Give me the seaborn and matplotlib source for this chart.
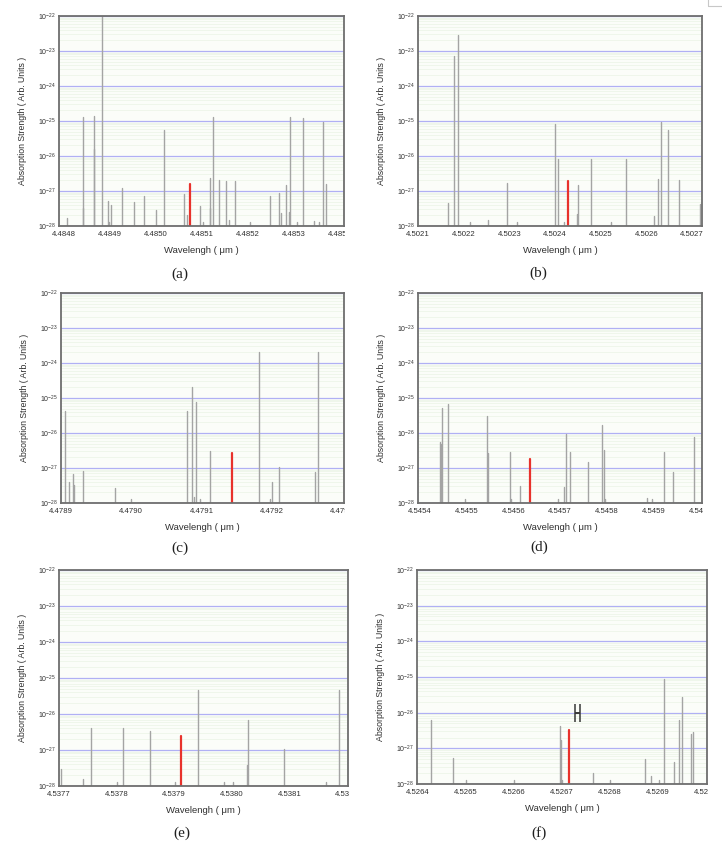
import numpy as np
import pandas as pd
import matplotlib
matplotlib.use("Agg")
import matplotlib.pyplot as plt
import seaborn as sns
from matplotlib.ticker import LogLocator, MultipleLocator, FixedLocator, LogFormatterSciNotation, NullFormatter, FormatStrFormatter
from matplotlib.transforms import Bbox, TransformedBbox
from matplotlib.patches import Rectangle

# ---------------- data (wavelength in um, strength in arb. units) ----------------
wl_a = [4.484807, 4.484842, 4.484842, 4.484867, 4.484867, 4.484884, 4.484896, 4.484899, 4.484904,
        4.484926, 4.484953, 4.484974, 4.485001, 4.485018, 4.485061, 4.485069, 4.485096, 4.485103,
        4.485119, 4.485119, 4.485126, 4.485139, 4.485154, 4.485159, 4.485173, 4.485205, 4.485250,
        4.485268, 4.485272, 4.485283, 4.485291, 4.485293, 4.485307, 4.485320, 4.485345, 4.485356,
        4.485364, 4.485371]
s_a = [1.7e-28, 1.3e-25, 3.3e-28, 1.4e-25, 1.6e-26, 1.2e-22, 5.1e-28, 1.3e-28, 4e-28,
       1.25e-27, 5e-28, 7e-28, 2.9e-28, 5.5e-26, 8.4e-28, 2e-28, 3.7e-28, 1.3e-28,
       2.3e-27, 3.3e-28, 1.3e-25, 2e-27, 1.9e-27, 1.5e-28, 1.9e-27, 1.3e-28, 7e-28,
       8.8e-28, 2.4e-28, 1.5e-27, 2.5e-28, 1.3e-25, 1.3e-28, 1.2e-25, 1.4e-28, 1.3e-28,
       9.3e-26, 1.6e-27]

wl_b = [4.502166, 4.502178, 4.502188, 4.502213, 4.502253, 4.502296, 4.502316, 4.502401, 4.502406,
        4.502420, 4.502448, 4.502450, 4.502479, 4.502522, 4.502555, 4.502617, 4.502625, 4.502632,
        4.502648, 4.502671, 4.502718, 4.502726]
s_b = [4.4e-28, 7.2e-24, 2.8e-23, 1.3e-28, 1.5e-28, 1.7e-27, 1.3e-28, 8.1e-26, 8e-27,
       1.3e-28, 2.2e-28, 1.45e-27, 8e-27, 1.3e-28, 8e-27, 1.9e-28, 2.2e-27, 9.1e-26,
       5.7e-26, 2e-27, 4.3e-28, 3.1e-28]

wl_c = [4.478905, 4.478911, 4.478917, 4.478919, 4.478931, 4.478977, 4.479000, 4.479079, 4.479087,
        4.479090, 4.479092, 4.479098, 4.479112, 4.479182, 4.479197, 4.479201, 4.479211, 4.479262,
        4.479266]
s_c = [4.2e-26, 4e-28, 6.9e-28, 3.2e-28, 8.4e-28, 2.6e-28, 1.3e-28, 4.2e-26, 2e-25,
       1.5e-28, 7.7e-26, 1.3e-28, 3.1e-27, 2.06e-24, 1.3e-28, 4e-28, 1.05e-27, 7.7e-28,
       2.06e-24]

wl_d = [4.545444, 4.545446, 4.545449, 4.545461, 4.545497, 4.545543, 4.545547, 4.545594, 4.545596,
        4.545614, 4.545695, 4.545708, 4.545712, 4.545720, 4.545759, 4.545790, 4.545793, 4.545795,
        4.545885, 4.545895, 4.545920, 4.545941, 4.545985]
s_d = [5.5e-27, 5e-27, 5.2e-26, 6.9e-26, 1.3e-28, 3.06e-26, 2.6e-27, 2.9e-27, 1.3e-28,
       3e-28, 1.3e-28, 2.8e-28, 9.6e-27, 2.9e-27, 1.5e-27, 1.66e-26, 3.3e-27, 1.3e-28,
       1.4e-28, 1.3e-28, 2.9e-27, 7.7e-28, 7.7e-27]

wl_e = [4.537703, 4.537742, 4.537756, 4.537801, 4.537811, 4.537858, 4.537901, 4.537942, 4.537987,
        4.538002, 4.538027, 4.538029, 4.538091, 4.538164, 4.538187]
s_e = [3e-28, 1.6e-28, 4.1e-27, 1.3e-28, 4.2e-27, 3.4e-27, 1.3e-28, 4.6e-26, 1.3e-28,
       1.3e-28, 3.9e-28, 6.8e-27, 1.1e-27, 1.3e-28, 4.6e-26]

wl_f = [4.526428, 4.526474, 4.526501, 4.526601, 4.526697, 4.526698, 4.526702, 4.526765, 4.526802,
        4.526874, 4.526887, 4.526902, 4.526914, 4.526934, 4.526944, 4.526950, 4.526970, 4.526973]
s_f = [6.2e-27, 5.5e-28, 1.3e-28, 1.3e-28, 4.2e-27, 1.7e-27, 1.3e-28, 2e-28, 1.3e-28,
       5.1e-28, 1.7e-28, 1.3e-28, 8.9e-26, 4.2e-28, 6.2e-27, 2.8e-26, 2.5e-27, 2.9e-27]

# target (red) lines
target_wl = [4.485075, 4.502429, 4.479144, 4.545636, 4.537912, 4.526715]
target_s = [1.6e-27, 1.9e-27, 2.7e-27, 1.8e-27, 2.5e-27, 3.2e-27]

# x-ranges of the panels
xmin = [4.48479, 4.5021, 4.4789, 4.545397, 4.5377, 4.526399]
xmax = [4.48541, 4.502722, 4.479303, 4.546002, 4.538202, 4.527003]

# marker in panel (f)
mark_f_wl = [4.526733]
mark_f_s = [1.0e-26]

panel_names = ["(a)", "(b)", "(c)", "(d)", "(e)", "(f)"]
ylabel = "Absorption Strength ( Arb. Units )"
xlabel = "Wavelengh ( \u03bcm )"
y_floor = 1e-28
y_top = 1e-22
y_decades = [1e-28, 1e-27, 1e-26, 1e-25, 1e-24, 1e-23, 1e-22]

# ---------------- style ----------------
sns.set_theme(style="white")
plt.rcParams['font.family'] = ['Liberation Sans', 'DejaVu Sans']
plt.rcParams['mathtext.fontset'] = 'custom'
plt.rcParams['mathtext.rm'] = 'Liberation Sans'
plt.rcParams['mathtext.it'] = 'Liberation Sans:italic'

W, H = 722, 852
fig = plt.figure(figsize=(W / 100, H / 100), dpi=100)
fig.patch.set_facecolor("white")

# axes boxes in pixels: left, right, top, bottom
boxes = [(59, 344, 16, 226), (418, 702, 16, 226),
         (61, 344, 293, 503), (418, 702, 293, 503),
         (59, 348, 570, 786), (417, 707, 570, 784)]
label_pos = [(180, 274), (538, 273), (180, 548), (539, 547), (182, 833), (539, 833)]

all_wl = [wl_a, wl_b, wl_c, wl_d, wl_e, wl_f]
all_s = [s_a, s_b, s_c, s_d, s_e, s_f]

gray = "#a4a4a4"
red = "#e8322c"
axes = []
for i in range(6):
    l, r, t, b = boxes[i]
    ax = fig.add_axes([l / W, 1 - b / H, (r - l) / W, (b - t) / H])
    axes.append(ax)
    ax.set_facecolor("#fbfdf9")
    # long-form frame: every line = two points (floor, value)
    rows = []
    for k, (w, s) in enumerate(zip(all_wl[i], all_s[i])):
        rows.append(dict(id=k, wl=w, st=y_floor))
        rows.append(dict(id=k, wl=w, st=s))
    df = pd.DataFrame(rows)
    sns.lineplot(data=df, x="wl", y="st", units="id", estimator=None, sort=False,
                 color=gray, linewidth=1.0, ax=ax, legend=False)
    dft = pd.DataFrame(dict(id=[0, 0], wl=[target_wl[i]] * 2, st=[y_floor, target_s[i]]))
    sns.lineplot(data=dft, x="wl", y="st", units="id", estimator=None, sort=False,
                 color=red, linewidth=1.6, ax=ax, legend=False)
    if i == 5:
        ax.errorbar(mark_f_wl, mark_f_s, xerr=[5.5e-6], fmt="none", ecolor="#383838",
                    elinewidth=1.4, capsize=6.5, capthick=1.1)
    ax.set_yscale("log")
    ax.set_ylim(y_floor, y_top)
    ax.set_xlim(xmin[i], xmax[i])
    ax.yaxis.set_major_locator(FixedLocator(y_decades))
    ax.yaxis.set_minor_locator(LogLocator(base=10, subs=np.arange(2, 10), numticks=12))
    ax.yaxis.set_major_formatter(LogFormatterSciNotation())
    ax.yaxis.set_minor_formatter(NullFormatter())
    first = np.ceil(round(xmin[i] * 1e4, 5)) / 1e4
    xt = np.round(np.arange(first, xmax[i] + 1e-9, 1e-4), 4)
    ax.xaxis.set_major_locator(FixedLocator(xt))
    ax.xaxis.set_minor_locator(MultipleLocator(1e-5))
    ax.xaxis.set_major_formatter(FormatStrFormatter("%.4f"))
    ax.grid(which="major", axis="y", color="#b0b0f4", linewidth=0.9)
    ax.grid(which="minor", axis="y", color="#ebf3e5", linewidth=0.5)
    ax.grid(which="both", axis="x", visible=False)
    ax.set_axisbelow(True)
    for sp in ax.spines.values():
        sp.set_color("#6e6e6e")
        sp.set_linewidth(1.3)
    ax.tick_params(axis="both", which="major", direction="in", length=3, width=0.8,
                   color="#404040", labelsize=5.6, pad=3.5, labelcolor="#303030")
    ax.tick_params(axis="both", which="minor", direction="in", length=1.6, width=0.6,
                   color="#404040")
    ax.tick_params(axis="y", which="major", labelsize=5, pad=2.5)
    ax.set_ylabel(ylabel, fontsize=6.3, color="#303030")
    ax.set_xlabel(xlabel, fontsize=6.8, color="#303030")
    ax.yaxis.set_label_coords(-0.112, 0.5)
    ax.xaxis.set_label_coords(0.5, -0.093)
    fig.text(label_pos[i][0] / W, 1 - label_pos[i][1] / H, panel_names[i],
             ha="center", va="center", fontsize=11, family=["Liberation Serif", "DejaVu Serif"],
             color="#202020")

# small box fragment at top-right corner
fig.patches.append(Rectangle((708 / W, 1 - 6 / H), 30 / W, 10 / H, transform=fig.transFigure,
                             fill=False, edgecolor="#c8c8c8", linewidth=0.8))

# clip x tick labels at the right edge of each panel (as in the cropped original)
fig.canvas.draw()
for i, ax in enumerate(axes):
    l, r, t, b = boxes[i]
    clip = TransformedBbox(Bbox([[0, 0], [(r + 1) / W, 1]]), fig.transFigure)
    for lbl in ax.get_xticklabels():
        lbl.set_clip_box(clip)
        lbl.set_clip_on(True)

fig.savefig("out.png", dpi=100, facecolor="white")
